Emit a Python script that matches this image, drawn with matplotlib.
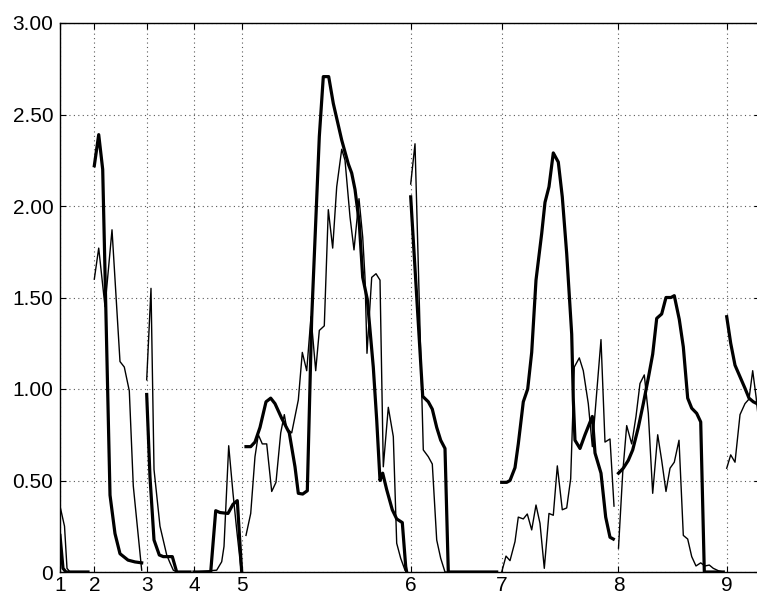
import numpy as np
import matplotlib
matplotlib.use("Agg")
import matplotlib.pyplot as plt

nan = np.nan

# x positions of the segment starts (sample index) and their labels
tick_pos = [0, 9.8, 24.77, 38.29, 51.91, 100.2, 126.2, 159.57, 190.49]
tick_labels = ["1", "2", "3", "4", "5", "6", "7", "8", "9"]
ytick_vals = [0, 0.5, 1.0, 1.5, 2.0, 2.5, 3.0]
ytick_labels = ["0", "0.50", "1.00", "1.50", "2.00", "2.50", "3.00"]

# thick series (segments separated by NaN)
thick_x = [0, 0.86, 1.71, 8.0, nan,
           9.8, 11.06, 12.2, 14.29, 15.71, 17.14, 19.43, 21.43, 23.34, nan,
           24.77, 25.71, 26.86, 28.37, 29.51, 32.09, 33.34, 37.14, nan,
           38.29, 43.06, 44.49, 45.71, 48.0, 49.43, 50.66, 51.91, nan,
           53.14, 54.49, 55.71, 57.14, 58.86, 60.2, 61.43, 63.34, 65.51, 67.14, 68.09, 69.34,
           70.66, 71.91, 74.09, 75.23, 76.77, 78.09, 80.49, 82.37, 83.34, 84.29, 85.51, 86.49,
           87.8, 89.51, 90.49, 91.43, 92.2, 93.34, 94.94, 96.2, 97.8, 98.77, 99.06, nan,
           100.2, 103.63, 105.23, 106.37, 107.63, 108.77, 110.0, 110.94, 124.77, nan,
           126.2, 127.63, 128.57, 130.0, 130.94, 132.37, 133.63, 134.77, 136.0, 137.63, 138.57,
           139.71, 140.94, 142.37, 143.51, 144.77, 146.2, 146.66, 147.14, 148.57, 150.0, 152.09,
           152.86, 154.57, 155.91, 157.14, 158.09, nan,
           159.57, 160.94, 162.37, 163.63, 165.23, 166.66, 168.09, 169.34, 170.49, 171.91, 173.14,
           174.57, 175.51, 176.94, 178.09, 179.34, 180.49, 181.91, 183.06, 184.09, 189.51, nan,
           190.49, 191.63, 192.86, 194.29, 195.71, 196.86, 198.09, 199.14, 200.5]
thick_y = [0.20, 0.02, 0.0, 0.0, nan,
           2.22, 2.39, 2.20, 0.42, 0.21, 0.10, 0.065, 0.055, 0.05, nan,
           0.97, 0.52, 0.175, 0.093, 0.084, 0.084, 0.0, 0.0, nan,
           0.0, 0.0, 0.335, 0.325, 0.32, 0.37, 0.39, 0.0, nan,
           0.685, 0.685, 0.71, 0.79, 0.93, 0.95, 0.92, 0.84, 0.76, 0.575, 0.43, 0.426,
           0.444, 1.386, 2.38, 2.707, 2.707, 2.56, 2.36, 2.23, 2.18, 2.09, 1.905, 1.61,
           1.49, 1.12, 0.83, 0.50, 0.54, 0.45, 0.34, 0.29, 0.27, 0.03, 0.0, nan,
           2.05, 0.96, 0.93, 0.89, 0.79, 0.72, 0.675, 0.0, 0.0, nan,
           0.49, 0.49, 0.50, 0.57, 0.70, 0.93, 1.0, 1.2, 1.595, 1.85, 2.02,
           2.105, 2.29, 2.24, 2.05, 1.74, 1.30, 0.94, 0.72, 0.675, 0.75, 0.85,
           0.65, 0.54, 0.30, 0.19, 0.18, nan,
           0.54, 0.567, 0.61, 0.667, 0.79, 0.92, 1.06, 1.19, 1.386, 1.41, 1.50,
           1.50, 1.51, 1.38, 1.23, 0.95, 0.895, 0.867, 0.82, 0.0, 0.0, nan,
           1.395, 1.25, 1.13, 1.067, 1.004, 0.95, 0.93, 0.92, 0.90]

# thin series
thin_x = [0, 1.29, 2.0, 2.86, 8.0, nan,
          9.8, 11.06, 12.86, 14.86, 17.14, 18.37, 19.8, 20.94, 23.34, nan,
          24.77, 26.0, 26.86, 28.57, 30.49, 31.43, 32.37, 33.34, 37.14, nan,
          38.29, 44.77, 46.2, 46.86, 48.2, 49.43, 50.49, 51.63, 51.91, nan,
          53.14, 54.49, 55.71, 56.66, 57.8, 59.06, 60.49, 61.71, 63.06, 64.09, 64.77, 66.2,
          68.09, 69.23, 70.49, 71.71, 73.06, 74.09, 75.51, 76.66, 77.91, 79.06, 80.49, 81.43,
          82.86, 84.0, 85.43, 86.49, 87.14, 87.71, 89.06, 90.29, 91.43, 92.37, 93.8, 95.23,
          96.2, 97.34, 98.57, nan,
          100.2, 101.43, 103.8, 105.23, 106.37, 107.63, 108.77, 110.0, 124.77, nan,
          126.2, 127.43, 128.57, 130.0, 130.94, 132.37, 133.51, 134.77, 136.0, 137.14, 138.37,
          139.71, 140.94, 142.09, 143.51, 144.77, 145.91, 146.94, 148.37, 149.51, 150.94, 152.09,
          154.57, 155.71, 157.14, 158.29, nan,
          159.57, 160.77, 161.91, 163.34, 164.57, 165.71, 166.94, 168.09, 169.34, 170.77, 171.91,
          173.14, 174.29, 175.51, 176.86, 178.09, 179.34, 180.49, 181.71, 183.06, 184.29, 185.51,
          186.66, 188.09, 189.51, nan,
          190.49, 191.63, 192.86, 194.29, 195.71, 196.86, 197.91, 198.86, 200.3]
thin_y = [0.36, 0.25, 0.02, 0.0, 0.0, nan,
          1.60, 1.77, 1.45, 1.87, 1.15, 1.12, 0.99, 0.47, 0.01, nan,
          1.05, 1.55, 0.56, 0.25, 0.093, 0.05, 0.01, 0.0, 0.0, nan,
          0.0, 0.01, 0.056, 0.14, 0.69, 0.43, 0.23, 0.03, 0.0, nan,
          0.20, 0.32, 0.63, 0.75, 0.70, 0.70, 0.44, 0.49, 0.76, 0.86, 0.785, 0.76,
          0.94, 1.20, 1.10, 1.395, 1.10, 1.32, 1.345, 1.98, 1.77, 2.105, 2.31, 2.25,
          1.94, 1.76, 2.04, 1.83, 1.61, 1.195, 1.61, 1.63, 1.595, 0.575, 0.90, 0.74,
          0.157, 0.075, 0.01, nan,
          2.12, 2.34, 0.667, 0.63, 0.59, 0.175, 0.075, 0.0, 0.0, nan,
          0.0, 0.087, 0.062, 0.166, 0.30, 0.29, 0.317, 0.23, 0.366, 0.266, 0.02,
          0.32, 0.31, 0.58, 0.34, 0.35, 0.51, 1.12, 1.17, 1.10, 0.92, 0.685,
          1.27, 0.71, 0.727, 0.36, nan,
          0.13, 0.54, 0.80, 0.70, 0.85, 1.03, 1.077, 0.867, 0.43, 0.75, 0.61,
          0.44, 0.567, 0.60, 0.72, 0.20, 0.18, 0.084, 0.033, 0.05, 0.033, 0.038,
          0.02, 0.007, 0.0, nan,
          0.567, 0.64, 0.60, 0.86, 0.92, 0.945, 1.10, 0.96, 0.70]

plt.rcParams['font.family'] = ['Liberation Sans', 'DejaVu Sans']

fig = plt.figure(figsize=(7.57, 6.01), dpi=100)
W, H = 757.0, 601.0
ax = fig.add_axes([60 / W, 29 / H, 700 / W, 549 / H])

ax.plot(thin_x, thin_y, color='black', linewidth=1.0, zorder=3)
ax.plot(thick_x, thick_y, color='black', linewidth=2.3, zorder=4)

ax.set_xlim(0, 200)
ax.set_ylim(0, 3)
ax.set_xticks(tick_pos)
ax.set_xticklabels(tick_labels)
ax.set_yticks(ytick_vals)
ax.set_yticklabels(ytick_labels)

ax.grid(True, linestyle=(0, (1, 3)), color='0.35', linewidth=0.8)
ax.set_axisbelow(True)

ax.tick_params(axis='both', direction='in', length=4, width=0.8, labelsize=15,
               top=True, right=True, colors='black')
ax.tick_params(axis='x', pad=3)
ax.tick_params(axis='y', pad=4.8)
for s in ax.spines.values():
    s.set_linewidth(1.0)
    s.set_color('black')

fig.savefig('out.png', dpi=100)
